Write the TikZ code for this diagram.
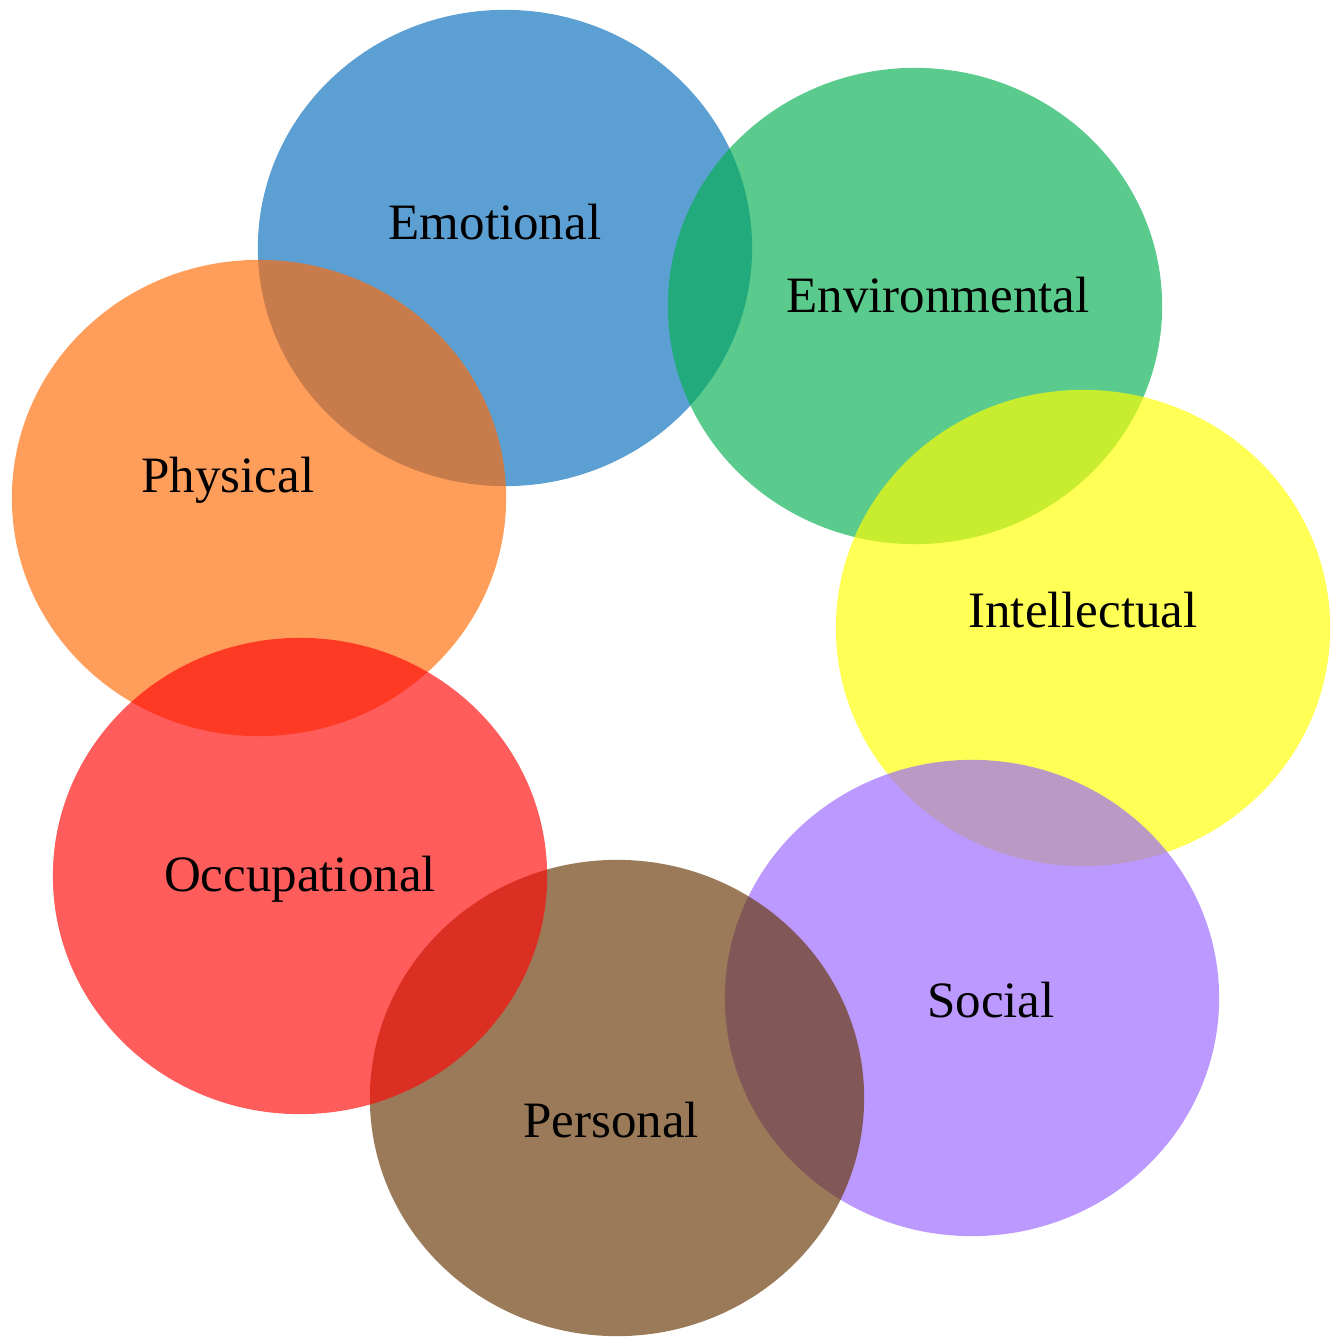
\documentclass[tikz,border=0pt]{standalone}
\usepackage{fontspec}
\setmainfont{Liberation Serif}
\usetikzlibrary{shapes.geometric}
\definecolor{cblue}{RGB}{9,111,189}
\definecolor{cgreen}{RGB}{8,177,82}
\definecolor{cyellow}{RGB}{255,255,0}
\definecolor{cpurple}{RGB}{153,102,255}
\definecolor{cbrown}{RGB}{103,55,4}
\definecolor{cred}{RGB}{255,10,10}
\definecolor{corange}{RGB}{255,108,8}
\tikzset{
  blob/.style={ellipse, draw=none, fill=#1, fill opacity=0.667, minimum width=4.94cm, minimum height=4.76cm, inner sep=0pt},
  lab/.style={anchor=base, text=black, font=\fontsize{14.5}{17}\selectfont, inner sep=0pt}
}
\begin{document}
\begin{tikzpicture}[x=0.01cm, y=-0.01cm]
\useasboundingbox (0,0) rectangle (1330,1337);
\node[blob=cblue]   (emo) at (505,248) {};
\node[blob=corange] (phy) at (259,498) {};
\node[blob=cgreen]  (env) at (915,306) {};
\node[blob=cyellow] (int) at (1083,628) {};
\node[blob=cpurple] (soc) at (972,998) {};
\node[blob=cbrown]  (per) at (617,1098) {};
\node[blob=cred]    (occ) at (300,876) {};
\node[lab] (temo) at (495,240) {Emotional};
\node[lab] (tenv) at (938,313) {Environmental};
\node[lab] (tint) at (1083,627) {Intellectual};
\node[lab] (tsoc) at (991,1017) {Social};
\node[lab] (tper) at (611,1137) {Personal};
\node[lab] (tocc) at (300,891) {Occupational};
\node[lab] (tphy) at (228,493) {Physical};
\end{tikzpicture}
\end{document}
